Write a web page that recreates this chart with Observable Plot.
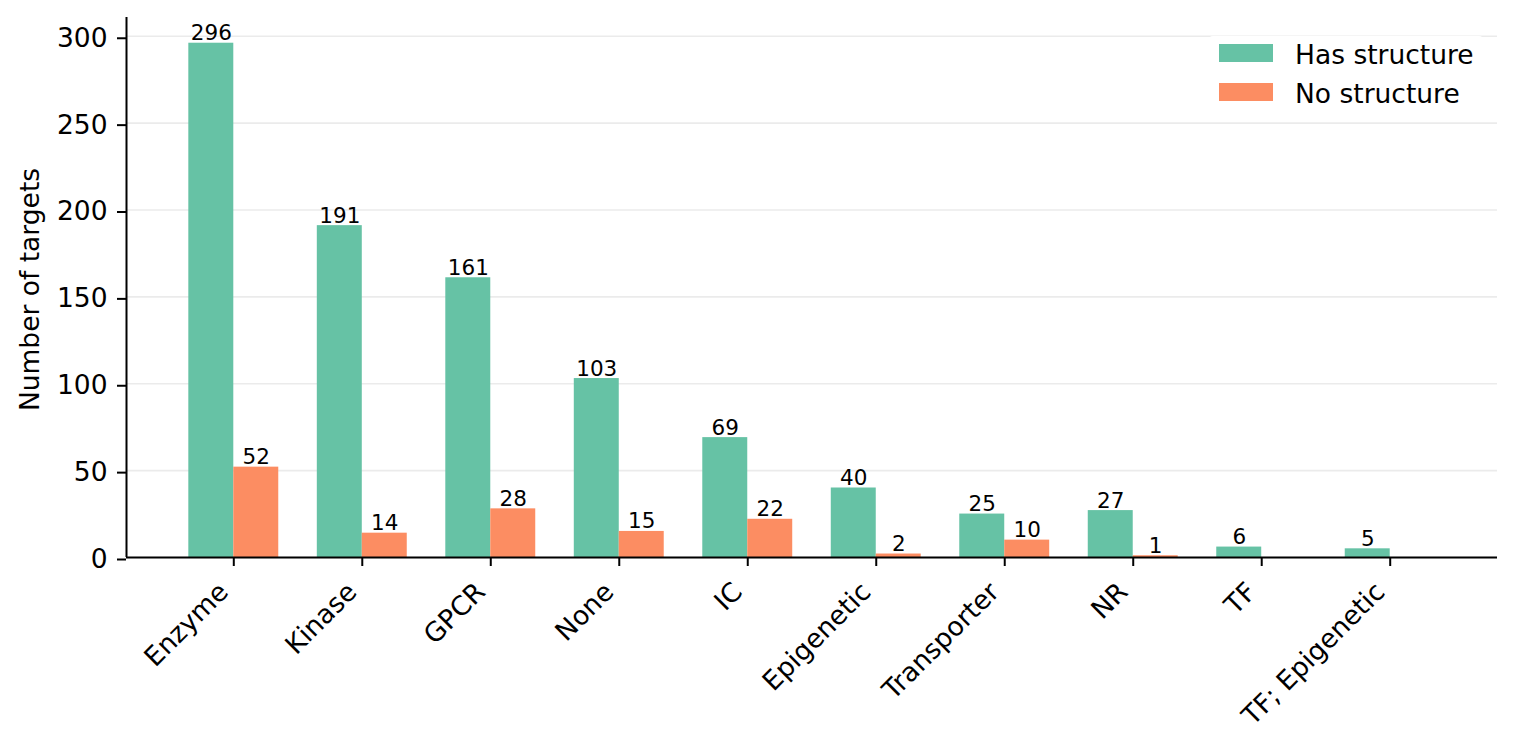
<!DOCTYPE html>
<html>
<head>
<meta charset="utf-8">
<script src="https://cdn.jsdelivr.net/npm/d3@7"></script>
<script src="https://cdn.jsdelivr.net/npm/@observablehq/plot@0.6"></script>
<style>
  html, body { margin: 0; padding: 0; background: #fff; }
  #wrap { position: relative; width: 1516px; height: 747px; font-family: "DejaVu Sans", sans-serif; }
  #legend { position: absolute; left: 1209px; top: 36px; width: 274px; height: 78px; background: #fff; border-radius: 4px; }
  .item { position: absolute; left: 10px; height: 18px; font-size: 26.5px; color: #000; white-space: nowrap; }
  .sw { position: absolute; left: 0; top: 0; width: 54px; height: 18px; }
  .lab { position: absolute; left: 76px; line-height: 1; }
</style>
</head>
<body>
<div id="wrap"></div>
<script>
const categories = ["Enzyme", "Kinase", "GPCR", "None", "IC", "Epigenetic", "Transporter", "NR", "TF", "TF; Epigenetic"];
const hasStructure = [296, 191, 161, 103, 69, 40, 25, 27, 6, 5];
const noStructure = [52, 14, 28, 15, 22, 2, 10, 1, null, null];
const seriesNames = ["Has structure", "No structure"];
const seriesColors = ["#66c2a5", "#fc8d62"];
const yTicks = [0, 50, 100, 150, 200, 250, 300];
const yLabel = "Number of targets";

const barW = 0.35;
const rows = [];
categories.forEach((c, i) => {
  if (hasStructure[i] != null) rows.push({i, cat: c, series: seriesNames[0], value: hasStructure[i], x1: i - barW, x2: i});
  if (noStructure[i] != null) rows.push({i, cat: c, series: seriesNames[1], value: noStructure[i], x1: i, x2: i + barW});
});
const xDomain = [-barW - 0.485, categories.length - 1 + barW + 0.485];
const yMax = Math.max(...hasStructure) * 1.05;

const chart = Plot.plot({
  width: 1516,
  height: 747,
  marginLeft: 126,
  marginRight: 19,
  marginTop: 17,
  marginBottom: 190,
  style: {fontFamily: "DejaVu Sans, sans-serif", background: "#fff", color: "#000"},
  x: {type: "linear", domain: xDomain, axis: null},
  y: {domain: [0, yMax], axis: null},
  color: {domain: seriesNames, range: seriesColors},
  marks: [
    Plot.gridY(yTicks, {stroke: "#ebebeb", strokeOpacity: 1, strokeWidth: 1.6}),
    Plot.rectY(rows, {x1: "x1", x2: "x2", y1: 0, y2: "value", fill: "series"}),
    Plot.text(rows, {x: d => (d.x1 + d.x2) / 2, y: "value", text: d => String(d.value), lineAnchor: "bottom", dy: -3, fontSize: 21.5, fill: "#000"}),
    Plot.axisY({ticks: yTicks, tickSize: 9, tickPadding: 10, fontSize: 26.5, label: null, strokeWidth: 2, dy: 2, tickFormat: d3.format("d")}),
    Plot.axisX({ticks: d3.range(categories.length), tickSize: 9, strokeWidth: 2, tickFormat: () => "", label: null}),
    Plot.text(d3.range(categories.length), {x: d => d, frameAnchor: "bottom", text: d => categories[d], rotate: -45, textAnchor: "end", lineAnchor: "bottom", dx: -4, dy: 36, fontSize: 26.5, fill: "#000"}),
    Plot.ruleX([xDomain[0]], {stroke: "#000", strokeWidth: 2}),
    Plot.ruleY([0], {stroke: "#000", strokeWidth: 2}),
    Plot.text([yLabel], {frameAnchor: "left", textAnchor: "middle", rotate: -90, lineAnchor: "bottom", dx: -88, dy: 2, fontSize: 26.5, fill: "#000"})
  ]
});
const wrap = document.getElementById("wrap");
wrap.appendChild(chart);

const legend = document.createElement("div");
legend.id = "legend";
seriesNames.forEach((name, k) => {
  const item = document.createElement("div");
  item.className = "item";
  item.style.top = (8 + k * 39) + "px";
  const sw = document.createElement("div");
  sw.className = "sw";
  sw.style.background = seriesColors[k];
  const lab = document.createElement("div");
  lab.className = "lab";
  lab.style.top = "-2px";
  lab.textContent = name;
  item.appendChild(sw);
  item.appendChild(lab);
  legend.appendChild(item);
});
wrap.appendChild(legend);
</script>
</body>
</html>
